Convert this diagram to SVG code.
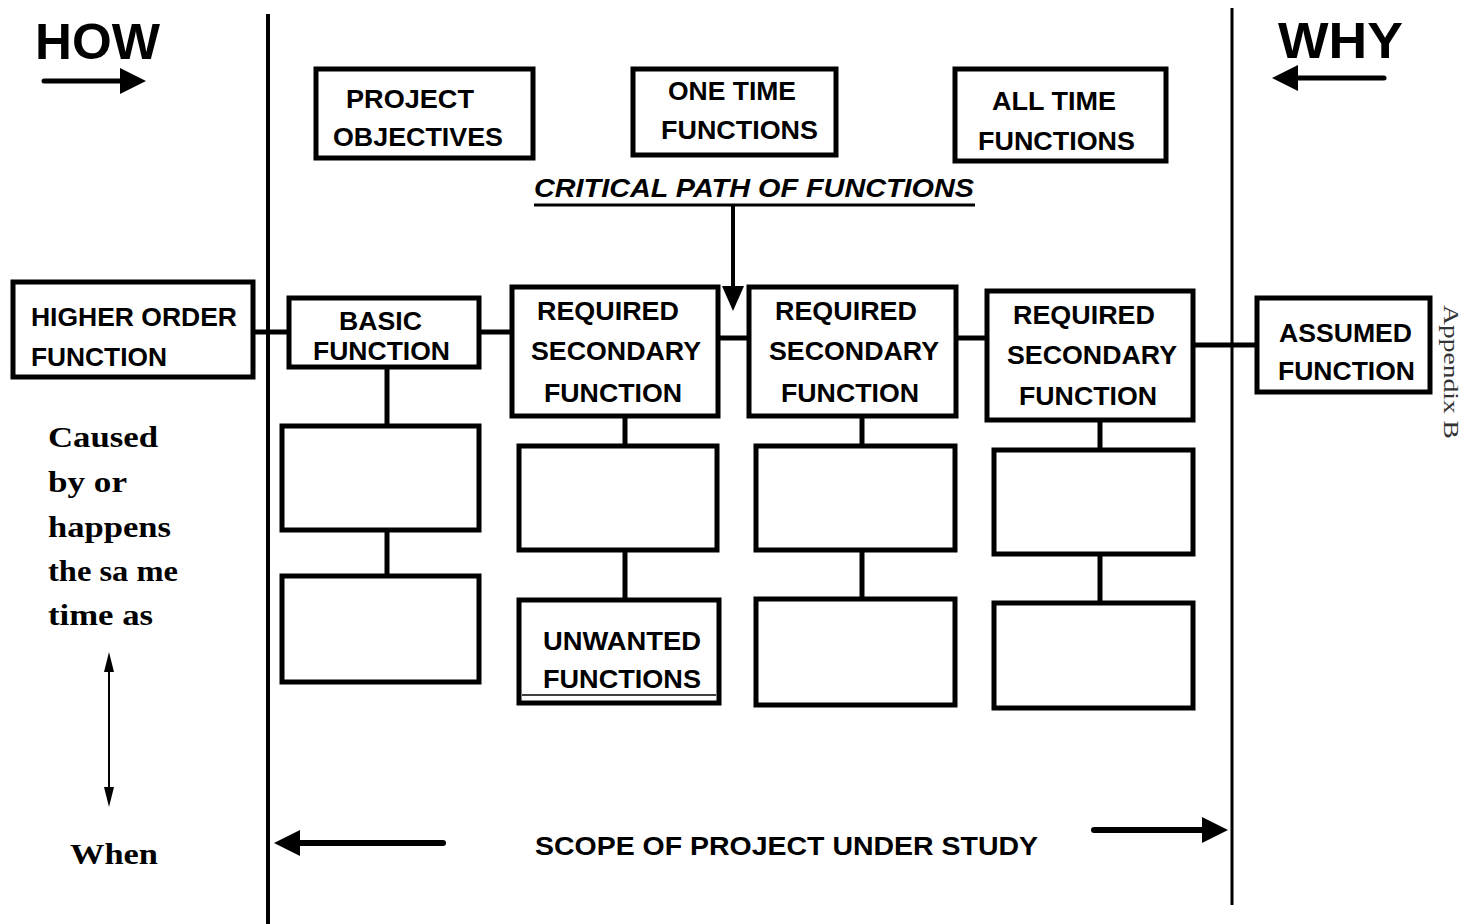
<svg xmlns="http://www.w3.org/2000/svg" width="1470" height="924" viewBox="0 0 1470 924">
<style>
.box{fill:#fff;stroke:#000;stroke-width:5}
.t{font-family:"Liberation Sans",Arial,sans-serif;font-weight:bold;font-size:26px;fill:#000}
.big{font-size:50px}
.s{font-family:"Liberation Serif","Times New Roman",serif;font-weight:bold;font-size:29px;fill:#000}
.ln{stroke:#000;stroke-width:5;fill:none}
</style>
<defs>
<marker id="ah" markerWidth="30" markerHeight="28" refX="4" refY="13" orient="auto" markerUnits="userSpaceOnUse">
<path d="M0,0 L26,13 L0,26 z" fill="#000"/>
</marker>
<marker id="ahs" markerWidth="20" markerHeight="10" refX="2" refY="5" orient="auto-start-reverse" markerUnits="userSpaceOnUse">
<path d="M0,0 L20,5 L0,10 z" fill="#000"/>
</marker>
</defs>
<rect width="1470" height="924" fill="#fff"/>

<!-- frame lines and headings -->
<g id="frame">
<line x1="268" y1="14" x2="268" y2="924" stroke="#000" stroke-width="4"/>
<line x1="1232" y1="8" x2="1232" y2="905" stroke="#000" stroke-width="3"/>
<text x="35" y="59" class="t big" textLength="125" lengthAdjust="spacingAndGlyphs">HOW</text>
<line x1="44" y1="81" x2="124" y2="81" stroke="#000" stroke-width="5" stroke-linecap="round" marker-end="url(#ah)"/>
<text x="1278" y="58" class="t big" textLength="125" lengthAdjust="spacingAndGlyphs">WHY</text>
<line x1="1384" y1="78" x2="1294" y2="78" stroke="#000" stroke-width="5" stroke-linecap="round" marker-end="url(#ah)"/>
<text x="534" y="197" class="t" font-style="italic" textLength="440" lengthAdjust="spacingAndGlyphs">CRITICAL PATH OF FUNCTIONS</text>
<line x1="534" y1="205" x2="975" y2="205" stroke="#000" stroke-width="3"/>
<text transform="translate(1444,305) rotate(90)" font-family="'Liberation Serif','Times New Roman',serif" font-size="22" fill="#333" textLength="134" lengthAdjust="spacingAndGlyphs">Appendix B</text>
<text x="48" y="447" class="s" textLength="110" lengthAdjust="spacingAndGlyphs">Caused</text>
<text x="48" y="492" class="s" textLength="79" lengthAdjust="spacingAndGlyphs">by or</text>
<text x="48" y="537" class="s" textLength="123" lengthAdjust="spacingAndGlyphs">happens</text>
<text x="48" y="581" class="s" textLength="130" lengthAdjust="spacingAndGlyphs">the sa me</text>
<text x="48" y="625" class="s" textLength="105" lengthAdjust="spacingAndGlyphs">time as</text>
<text x="70" y="864" class="s" textLength="88" lengthAdjust="spacingAndGlyphs">When</text>
<text x="535" y="855" class="t" textLength="503" lengthAdjust="spacingAndGlyphs">SCOPE OF PROJECT UNDER STUDY</text>
</g>

<!-- connectors -->
<g id="connectors">
<line x1="109" y1="670" x2="109" y2="789" stroke="#000" stroke-width="2" marker-start="url(#ahs)" marker-end="url(#ahs)"/>
<line x1="443" y1="843" x2="296" y2="843" stroke="#000" stroke-width="6" stroke-linecap="round" marker-end="url(#ah)"/>
<line x1="1094" y1="830" x2="1206" y2="830" stroke="#000" stroke-width="6" stroke-linecap="round" marker-end="url(#ah)"/>
<line x1="733" y1="205" x2="733" y2="288" stroke="#000" stroke-width="4"/>
<path d="M722,286 L744,286 L733,311 z" fill="#000"/>
<line class="ln" x1="253" y1="332" x2="290" y2="332"/>
<line class="ln" x1="479" y1="332" x2="512" y2="332"/>
<line class="ln" x1="718" y1="338" x2="749" y2="338"/>
<line class="ln" x1="956" y1="338" x2="987" y2="338"/>
<line class="ln" x1="1193" y1="345" x2="1257" y2="345"/>
<line class="ln" x1="387" y1="367" x2="387" y2="425"/>
<line class="ln" x1="387" y1="530" x2="387" y2="575"/>
<line class="ln" x1="625" y1="416" x2="625" y2="445"/>
<line class="ln" x1="625" y1="550" x2="625" y2="598"/>
<line class="ln" x1="862" y1="416" x2="862" y2="445"/>
<line class="ln" x1="862" y1="550" x2="862" y2="598"/>
<line class="ln" x1="1100" y1="420" x2="1100" y2="449"/>
<line class="ln" x1="1100" y1="554" x2="1100" y2="602"/>
</g>

<g id="project-objectives">
<rect class="box" x="316" y="69" width="217" height="89"/>
<text x="346" y="108" class="t" textLength="128" lengthAdjust="spacingAndGlyphs">PROJECT</text>
<text x="333" y="146" class="t" textLength="170" lengthAdjust="spacingAndGlyphs">OBJECTIVES</text>
</g>
<g id="one-time">
<rect class="box" x="633" y="69" width="203" height="86"/>
<text x="668" y="100" class="t" textLength="128" lengthAdjust="spacingAndGlyphs">ONE TIME</text>
<text x="661" y="139" class="t" textLength="157" lengthAdjust="spacingAndGlyphs">FUNCTIONS</text>
</g>
<g id="all-time">
<rect class="box" x="955" y="69" width="211" height="92"/>
<text x="992" y="110" class="t" textLength="124" lengthAdjust="spacingAndGlyphs">ALL TIME</text>
<text x="978" y="150" class="t" textLength="157" lengthAdjust="spacingAndGlyphs">FUNCTIONS</text>
</g>

<g id="higher-order">
<rect class="box" x="13" y="282" width="240" height="95" stroke-width="6"/>
<text x="31" y="326" class="t" textLength="206" lengthAdjust="spacingAndGlyphs">HIGHER ORDER</text>
<text x="31" y="366" class="t" textLength="136" lengthAdjust="spacingAndGlyphs">FUNCTION</text>
</g>
<g id="basic">
<rect class="box" x="289" y="298" width="190" height="69"/>
<text x="339" y="330" class="t" textLength="83" lengthAdjust="spacingAndGlyphs">BASIC</text>
<text x="313" y="360" class="t" textLength="137" lengthAdjust="spacingAndGlyphs">FUNCTION</text>
</g>
<g id="rsf1">
<rect class="box" x="512" y="287" width="206" height="129"/>
<text x="537" y="320" class="t" textLength="142" lengthAdjust="spacingAndGlyphs">REQUIRED</text>
<text x="531" y="360" class="t" textLength="170" lengthAdjust="spacingAndGlyphs">SECONDARY</text>
<text x="544" y="402" class="t" textLength="138" lengthAdjust="spacingAndGlyphs">FUNCTION</text>
</g>
<g id="rsf2">
<rect class="box" x="749" y="287" width="207" height="129"/>
<text x="775" y="320" class="t" textLength="142" lengthAdjust="spacingAndGlyphs">REQUIRED</text>
<text x="769" y="360" class="t" textLength="170" lengthAdjust="spacingAndGlyphs">SECONDARY</text>
<text x="781" y="402" class="t" textLength="138" lengthAdjust="spacingAndGlyphs">FUNCTION</text>
</g>
<g id="rsf3">
<rect class="box" x="987" y="291" width="206" height="129"/>
<text x="1013" y="324" class="t" textLength="142" lengthAdjust="spacingAndGlyphs">REQUIRED</text>
<text x="1007" y="364" class="t" textLength="170" lengthAdjust="spacingAndGlyphs">SECONDARY</text>
<text x="1019" y="405" class="t" textLength="138" lengthAdjust="spacingAndGlyphs">FUNCTION</text>
</g>
<g id="assumed">
<rect class="box" x="1257" y="298" width="173" height="94"/>
<text x="1279" y="342" class="t" textLength="133" lengthAdjust="spacingAndGlyphs">ASSUMED</text>
<text x="1278" y="380" class="t" textLength="137" lengthAdjust="spacingAndGlyphs">FUNCTION</text>
</g>

<g id="basic-sub1"><rect class="box" x="282" y="426" width="197" height="104"/></g>
<g id="basic-sub2"><rect class="box" x="282" y="576" width="197" height="106"/></g>
<g id="rsf1-sub1"><rect class="box" x="519" y="446" width="198" height="104"/></g>
<g id="unwanted">
<rect class="box" x="519" y="600" width="200" height="103" stroke-width="7"/>
<line x1="522" y1="695" x2="716" y2="695" stroke="#000" stroke-width="1.5"/>
<text x="543" y="650" class="t" textLength="158" lengthAdjust="spacingAndGlyphs">UNWANTED</text>
<text x="543" y="688" class="t" textLength="158" lengthAdjust="spacingAndGlyphs">FUNCTIONS</text>
</g>
<g id="rsf2-sub1"><rect class="box" x="756" y="446" width="199" height="104"/></g>
<g id="rsf2-sub2"><rect class="box" x="756" y="599" width="199" height="106"/></g>
<g id="rsf3-sub1"><rect class="box" x="994" y="450" width="199" height="104"/></g>
<g id="rsf3-sub2"><rect class="box" x="994" y="603" width="199" height="105"/></g>
</svg>
